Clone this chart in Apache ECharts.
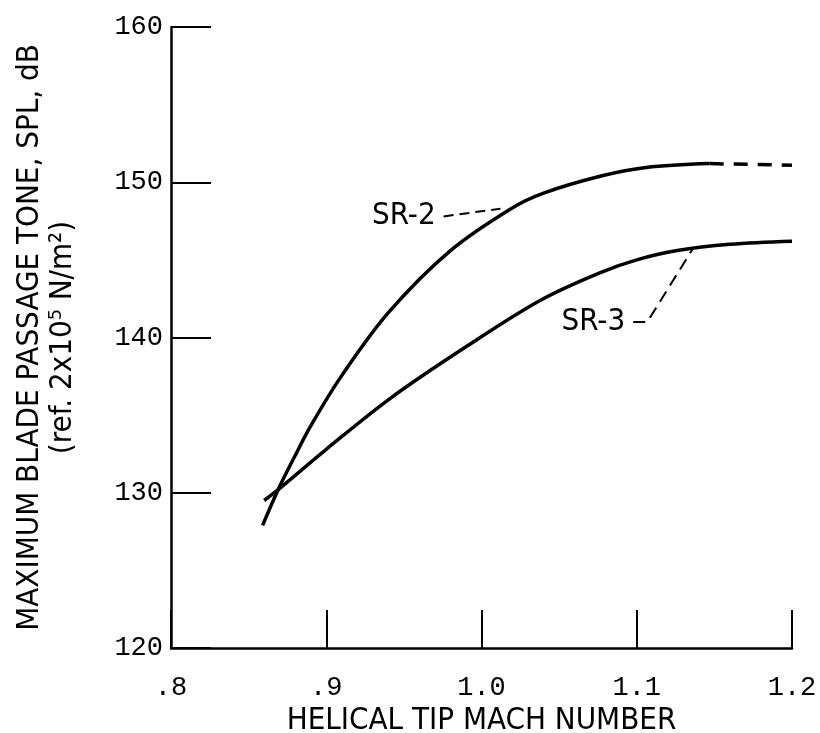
<!DOCTYPE html>
<html>
<head>
<meta charset="utf-8">
<script src="https://cdn.jsdelivr.net/npm/echarts@6/dist/echarts.min.js"></script>
<style>
  html, body { margin: 0; padding: 0; background: #fff; }
  #chart { width: 820px; height: 733px; }
</style>
</head>
<body>
<div id="chart"></div>
<script>
// values
var sr2 = [[0.859, 127.9], [0.869, 130.2], [0.88, 132.4], [0.89, 134.3], [0.909, 137.4],
  [0.94, 141.6], [0.98, 145.6], [1.019, 148.3], [1.04, 149.3], [1.077, 150.4],
  [1.106, 150.95], [1.147, 151.2]];
var sr2Dashed = [[1.147, 151.2], [1.2, 151.1]];
var sr3 = [[0.86, 129.5], [0.869, 130.2], [0.9, 132.8], [0.9415, 136.1], [0.99, 139.4],
  [1.038, 142.4], [1.077, 144.2], [1.1, 145.0], [1.126, 145.6], [1.16, 146.0], [1.2, 146.2]];
var sr2Leader = [[0.9756, 147.8], [1.0122, 148.3]];
var sr3Leader = [[1.0977, 141.0], [1.1068, 141.0], [1.136, 145.7]];
var xTickLabels = { '0.8': '.8', '0.9': '.9', '1': '1.0', '1.1': '1.1', '1.2': '1.2' };

var monoFont = '"Liberation Mono", "DejaVu Sans Mono", monospace';
var sansFont = '"DejaVu Sans Condensed", "Liberation Sans Narrow", "DejaVu Sans", sans-serif';

var chart = echarts.init(document.getElementById('chart'), null, { renderer: 'canvas' });

function tagLabel(text) {
  return {
    show: true, position: 'left', formatter: text, distance: 8,
    color: '#000', fontFamily: sansFont, fontSize: 31
  };
}

var option = {
  backgroundColor: '#fff',
  animation: false,
  grid: { left: 171, right: 28, top: 27, bottom: 85, containLabel: false, outerBoundsMode: 'none' },
  xAxis: {
    type: 'value',
    min: 0.8,
    max: 1.2,
    interval: 0.1,
    name: 'HELICAL TIP MACH NUMBER',
    nameLocation: 'middle',
    nameGap: 54,
    nameTextStyle: { color: '#000', fontFamily: sansFont, fontSize: 31 },
    axisLine: { show: true, onZero: false, lineStyle: { color: '#000', width: 2.5 } },
    axisTick: { show: true, inside: true, length: 38, lineStyle: { color: '#000', width: 2 } },
    axisLabel: {
      color: '#000', fontFamily: monoFont, fontSize: 27, margin: 26,
      formatter: function (v) { return xTickLabels[String(+v.toFixed(1))]; }
    },
    splitLine: { show: false }
  },
  yAxis: {
    type: 'value',
    min: 120,
    max: 160,
    interval: 10,
    name: 'MAXIMUM BLADE PASSAGE TONE, SPL, dB\n(ref. 2x10\u2075 N/m\u00b2)',
    nameLocation: 'middle',
    nameRotate: 90,
    nameGap: 92,
    nameTextStyle: { color: '#000', fontFamily: sansFont, fontSize: 31, lineHeight: 33, align: 'center' },
    axisLine: { show: true, lineStyle: { color: '#000', width: 2.5 } },
    axisTick: { show: true, inside: true, length: 40, lineStyle: { color: '#000', width: 2 } },
    axisLabel: { color: '#000', fontFamily: monoFont, fontSize: 27, margin: 8 },
    splitLine: { show: false }
  },
  series: [
    {
      name: 'SR-2', type: 'line', data: sr2, smooth: 0.35, showSymbol: false,
      lineStyle: { color: '#000', width: 3.5 }
    },
    {
      name: 'SR-2 extrapolated', type: 'line', data: sr2Dashed, showSymbol: false,
      lineStyle: { color: '#000', width: 3.5, type: [14, 10] }
    },
    {
      name: 'SR-3', type: 'line', data: sr3, smooth: 0.35, showSymbol: false,
      lineStyle: { color: '#000', width: 3.5 }
    },
    {
      name: 'SR-2 leader', type: 'line', showSymbol: true, symbolSize: 0,
      lineStyle: { color: '#000', width: 2, type: [10, 6] },
      data: [{ value: sr2Leader[0], label: tagLabel('SR-2') }, sr2Leader[1]]
    },
    {
      name: 'SR-3 leader', type: 'line', showSymbol: true, symbolSize: 0,
      lineStyle: { color: '#000', width: 2, type: [12, 7] },
      data: [{ value: sr3Leader[0], label: tagLabel('SR-3') }, sr3Leader[1], sr3Leader[2]]
    }
  ]
};

chart.setOption(option);
</script>
</body>
</html>
